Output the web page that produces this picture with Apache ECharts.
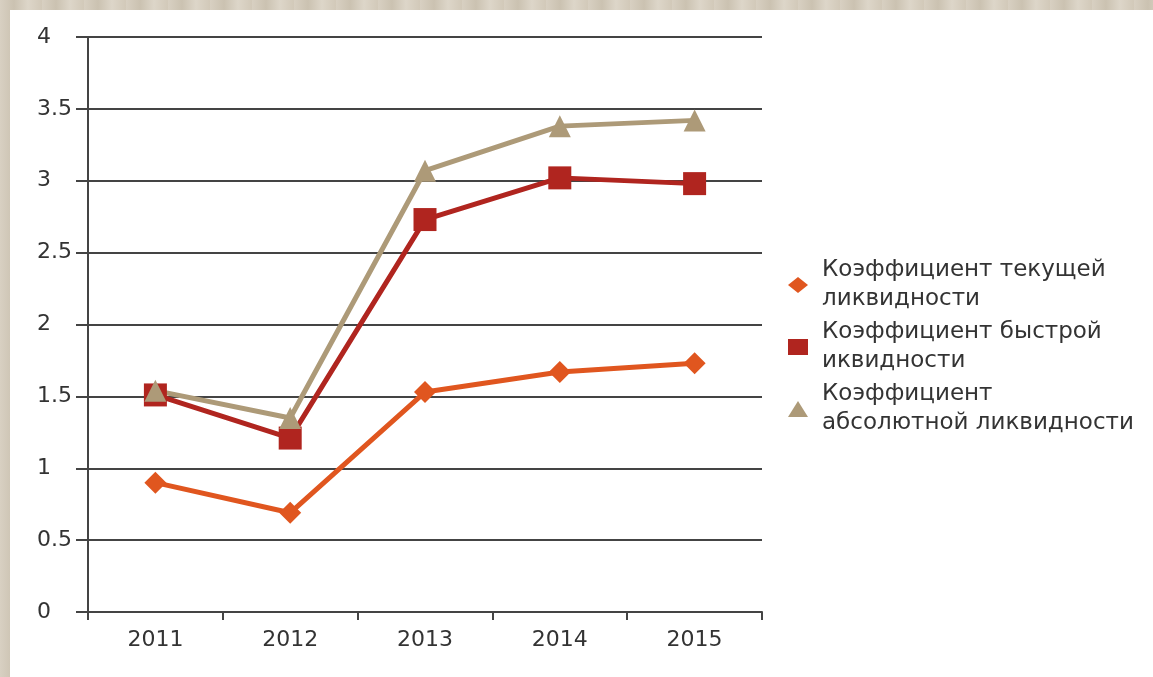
<!DOCTYPE html>
<html><head><meta charset="utf-8">
<script src="https://cdn.jsdelivr.net/npm/echarts@6/dist/echarts.min.js"></script>
<style>
html,body{margin:0;padding:0;width:1153px;height:677px;overflow:hidden;
background:repeating-linear-gradient(90deg,#d8d0c2 0px,#cbc2b1 14px,#ddd6c9 28px,#d2c9b9 42px);}
#c{position:absolute;left:10px;top:10px;width:1143px;height:667px;background:#fff;}
</style></head><body>
<div id="c"></div>
<script>
const years = ['2011','2012','2013','2014','2015'];
const seriesNames = ['Коэффициент текущей\nликвидности','Коэффициент быстрой\nиквидности','Коэффициент\nабсолютной ликвидности'];
const currentRatio = [0.90, 0.69, 1.53, 1.67, 1.73];
const quickRatio = [1.51, 1.21, 2.73, 3.02, 2.98];
const absoluteRatio = [1.54, 1.35, 3.07, 3.38, 3.42];

const chart = echarts.init(document.getElementById('c'), null, {renderer:'canvas'});
const font = 'DejaVu Sans, sans-serif';
chart.setOption({
  animation:false,
  textStyle:{fontFamily:font},
  grid:{left:78,top:27,right:391,bottom:65,containLabel:false},
  legend:{
    orient:'vertical', left:773, top:241, itemGap:4,
    itemWidth:20, itemHeight:16,
    textStyle:{fontSize:23,color:'#333',lineHeight:29,fontFamily:font,padding:[0,0,0,9]},
    data:[{name:seriesNames[0],icon:'diamond'},{name:seriesNames[1],icon:'rect'},{name:seriesNames[2],icon:'triangle'}]
  },
  xAxis:{
    type:'category', data:years, boundaryGap:true,
    axisLine:{lineStyle:{color:'#444',width:2}},
    axisTick:{show:true,length:8,lineStyle:{color:'#444',width:2}},
    axisLabel:{fontSize:22,color:'#333',margin:17,fontFamily:font}
  },
  yAxis:{
    type:'value', min:0, max:4, interval:0.5,
    axisLine:{show:true,lineStyle:{color:'#444',width:2}},
    axisTick:{show:true,length:12,lineStyle:{color:'#444',width:2}},
    axisLabel:{fontSize:22,color:'#333',align:'left',margin:51,fontFamily:font},
    splitLine:{lineStyle:{color:'#444',width:2}}
  },
  series:[
    {name:seriesNames[0],type:'line',data:currentRatio,symbol:'diamond',symbolSize:22,
     lineStyle:{color:'#e0561f',width:5},itemStyle:{color:'#e0561f'}},
    {name:seriesNames[1],type:'line',data:quickRatio,symbol:'rect',symbolSize:23,
     lineStyle:{color:'#b0251f',width:5},itemStyle:{color:'#b0251f'}},
    {name:seriesNames[2],type:'line',data:absoluteRatio,symbol:'triangle',symbolSize:22,
     lineStyle:{color:'#ad9a78',width:5},itemStyle:{color:'#ad9a78'}}
  ]
});
</script></body></html>
